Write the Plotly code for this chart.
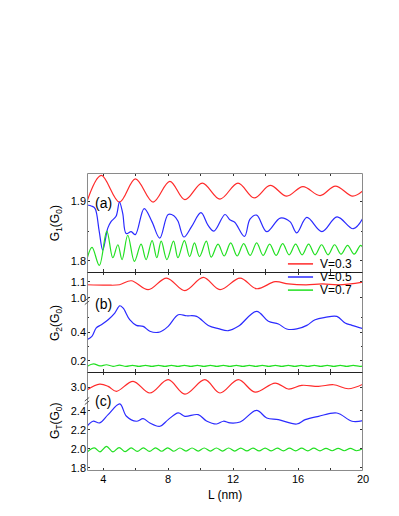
import plotly.graph_objects as go

# ---------------- data ----------------
# Panel (a): G1
La_red = [3.0, 3.88, 5.0, 5.98, 7.07, 8.1, 9.03, 10.1, 11.19, 12.3, 13.3, 14.28, 15.3, 16.3, 17.36, 18.3, 19.36, 20.0]
Ga_red = [1.900, 1.944, 1.899, 1.938, 1.899, 1.934, 1.903, 1.931, 1.904, 1.931, 1.906, 1.927, 1.909, 1.925, 1.910, 1.926, 1.909, 1.918]

La_blue = [3.0, 3.3, 3.5, 3.75, 3.97, 4.28, 4.48, 4.79, 5.0, 5.2, 5.41, 5.72, 5.98, 6.52, 7.0, 7.48, 8.0, 8.35, 8.6, 8.97,
           9.45, 10.02, 10.45, 10.82, 11.5, 11.8, 12.1, 12.7, 13.04, 13.45, 14.07, 14.9, 15.5, 15.92, 16.54, 17.47, 18.4, 19.4, 20.0]
Ga_blue = [1.894, 1.892, 1.888, 1.850, 1.818, 1.855, 1.866, 1.875, 1.899, 1.880, 1.846, 1.849, 1.844, 1.888, 1.866, 1.838, 1.878, 1.876, 1.867, 1.840,
           1.858, 1.881, 1.860, 1.850, 1.878, 1.869, 1.865, 1.841, 1.870, 1.877, 1.849, 1.872, 1.866, 1.847, 1.873, 1.849, 1.874, 1.854, 1.872]

La_green = [3.0, 3.31, 3.76, 4.22, 4.59, 4.9, 5.16, 5.51, 5.92, 6.33, 6.64, 7.01, 7.3, 7.57, 7.92, 8.33, 8.6, 9.0, 9.32, 9.62,
            9.93, 10.35, 10.65, 11.07, 11.45, 11.85, 12.25, 12.65, 13.05, 13.45, 13.85, 14.25, 14.65, 15.05, 15.45, 15.85, 16.25,
            16.65, 17.05, 17.45, 17.85, 18.25, 18.65, 19.05, 19.45, 19.85, 20.0]
Ga_green = [1.803, 1.8225, 1.792, 1.850, 1.805, 1.827, 1.802, 1.843, 1.799, 1.828, 1.802, 1.834, 1.805, 1.833, 1.802, 1.833, 1.805, 1.834, 1.807, 1.830,
            1.807, 1.833, 1.806, 1.828, 1.808, 1.830, 1.808, 1.829, 1.809, 1.830, 1.809, 1.828, 1.809, 1.829, 1.810, 1.828, 1.810,
            1.828, 1.810, 1.827, 1.810, 1.827, 1.811, 1.826, 1.811, 1.826, 1.822]

# Panel (b): G2
Lb_red = [3.0, 4.3, 5.0, 5.73, 6.77, 7.9, 9.03, 10.16, 11.19, 12.43, 13.45, 14.59, 15.4, 16.5, 17.5, 18.5, 20.0]
Gb_red = [1.081, 1.078, 1.081, 1.106, 1.050, 1.123, 1.044, 1.127, 1.050, 1.123, 1.056, 1.100, 1.086, 1.080, 1.086, 1.080, 1.098]

Lb_blue = [3.0, 3.3, 3.57, 3.88, 4.3, 4.71, 5.02, 5.22, 5.63, 6.04, 6.46, 6.87, 7.49, 8.0, 8.62, 9.13, 9.75, 10.47, 11.09, 11.7,
           12.32, 13.45, 14.17, 14.79, 15.3, 15.92, 16.54, 17.05, 17.67, 18.39, 18.9, 19.32, 20.0]
Gb_blue = [0.347, 0.370, 0.428, 0.450, 0.485, 0.531, 0.581, 0.566, 0.485, 0.446, 0.439, 0.405, 0.400, 0.439, 0.519, 0.512, 0.508, 0.445, 0.423, 0.409,
           0.439, 0.543, 0.474, 0.455, 0.421, 0.421, 0.446, 0.485, 0.501, 0.508, 0.462, 0.446, 0.423]

Lb_green = [3.0, 3.4, 3.8, 4.2, 4.6, 5.0, 5.4, 5.8, 6.2, 6.6, 7.0, 7.4, 7.8, 8.2, 8.6, 9.0, 9.4, 9.8, 10.2, 10.6, 11.0, 11.4,
            11.8, 12.2, 12.6, 13.0, 13.4, 13.8, 14.2, 14.6, 15.0, 15.4, 15.8, 16.2, 16.6, 17.0, 17.4, 17.8, 18.2, 18.6, 19.0, 19.4, 19.8, 20.0]
Gb_green = [0.163, 0.180, 0.166, 0.174, 0.163, 0.171, 0.163, 0.170, 0.163, 0.170, 0.163, 0.170, 0.163, 0.170, 0.163, 0.170, 0.163, 0.170,
            0.163, 0.170, 0.163, 0.170, 0.163, 0.170, 0.163, 0.170, 0.163, 0.170, 0.163, 0.170, 0.163, 0.170, 0.163, 0.170, 0.163, 0.170,
            0.163, 0.170, 0.163, 0.170, 0.163, 0.170, 0.163, 0.167]

# Panel (c): GT
Lc_red = [3.0, 3.78, 4.3, 4.81, 5.84, 6.87, 8.0, 9.03, 10.26, 11.19, 12.32, 13.35, 14.59, 15.4, 16.23, 17.26, 18.19, 19.1, 20.0]
Gc_red = [2.970, 3.030, 3.007, 2.955, 3.060, 2.937, 3.077, 2.926, 3.077, 2.937, 3.077, 2.947, 3.042, 2.979, 3.018, 3.007, 3.024, 2.982, 3.030]

Lc_blue = [3.0, 3.37, 3.78, 4.3, 5.02, 5.43, 6.04, 6.46, 6.87, 7.49, 8.0, 8.62, 9.03, 9.85, 10.36, 10.98, 11.4, 11.81, 12.43,
           13.45, 14.07, 14.79, 15.92, 16.44, 17.26, 18.39, 19.32, 20.0]
Gc_blue = [2.239, 2.292, 2.274, 2.361, 2.474, 2.344, 2.292, 2.319, 2.274, 2.239, 2.309, 2.379, 2.344, 2.361, 2.295, 2.263, 2.292, 2.274, 2.284,
           2.407, 2.326, 2.309, 2.263, 2.309, 2.344, 2.379, 2.292, 2.298]

Lc_green = [3.0, 3.45, 3.8, 4.2, 4.6, 4.98, 5.35, 5.72, 6.1, 6.47, 6.85, 7.22, 7.6, 7.97, 8.35, 8.72, 9.1, 9.47, 9.85, 10.22, 10.6,
            10.97, 11.35, 11.72, 12.1, 12.47, 12.85, 13.22, 13.6, 13.97, 14.35, 14.72, 15.1, 15.47, 15.85, 16.22, 16.6, 16.97,
            17.35, 17.72, 18.1, 18.47, 18.85, 19.22, 19.6, 20.0]
Gc_green = [1.966, 2.012, 1.970, 2.028, 1.970, 2.015, 1.972, 2.012, 1.975, 2.012, 1.975, 2.012, 1.976, 2.012, 1.976, 2.010, 1.977, 2.010, 1.977, 2.010, 1.978,
            2.010, 1.978, 2.010, 1.978, 2.009, 1.979, 2.009, 1.979, 2.009, 1.979, 2.008, 1.980, 2.008, 1.980, 2.008, 1.980, 2.008,
            1.980, 2.007, 1.981, 2.007, 1.981, 2.007, 1.981, 2.004]

x_tickvals = [4, 6, 8, 10, 12, 14, 16, 18, 20]
x_ticktext = ["4", "", "8", "", "12", "", "16", "", "20"]
legend_names = ["V=0.3", "V=0.5", "V=0.7"]

RED = "#ff2b2b"
BLUE = "#2b2bff"
GREEN = "#22e022"
FONT = "Liberation Sans, Arial, sans-serif"

fig = go.Figure()


def add(x, y, color, xa, ya):
    fig.add_trace(go.Scatter(x=x, y=y, mode="lines", xaxis=xa, yaxis=ya, showlegend=False,
                             hoverinfo="skip",
                             line=dict(color=color, width=1.2, shape="spline", smoothing=1.0)))


add(La_red, Ga_red, RED, "x3", "y")
add(La_blue, Ga_blue, BLUE, "x3", "y")
add(La_green, Ga_green, GREEN, "x3", "y")
add(Lb_red, Gb_red, RED, "x4", "y2")
add(Lb_blue, Gb_blue, BLUE, "x2", "y3")
add(Lb_green, Gb_green, GREEN, "x2", "y3")
add(Lc_red, Gc_red, RED, "x5", "y4")
add(Lc_blue, Gc_blue, BLUE, "x", "y5")
add(Lc_green, Gc_green, GREEN, "x", "y5")

# domains (paper)
D_a = [0.6678, 1.0]
D_bu = [0.5705, 0.6678]
D_bl = [0.3322, 0.5705]
D_cu = [0.2349, 0.3322]
D_cl = [0.0, 0.2349]

tickfont = dict(family=FONT, size=11, color="black")
xcommon = dict(range=[3, 20], tickvals=x_tickvals, ticktext=x_ticktext, ticks="inside", ticklen=3,
               tickcolor="#333", showgrid=False, zeroline=False, showline=False, domain=[0, 1])
ycommon = dict(ticks="inside", ticklen=3, tickcolor="#333", showgrid=False, zeroline=False, showline=False,
               tickfont=tickfont, tickformat=".1f", mirror="ticks")

fig.update_layout(
    width=399, height=516,
    margin=dict(l=79, r=44, t=165, b=53),
    paper_bgcolor="white", plot_bgcolor="white",
    showlegend=False,
    font=dict(family=FONT, color="black"),
    xaxis=dict(anchor="y5", tickfont=tickfont, **xcommon),
    xaxis2=dict(anchor="y3", matches="x", showticklabels=False, **xcommon),
    xaxis3=dict(anchor="y", matches="x", showticklabels=False, mirror="ticks", **xcommon),
    xaxis4=dict(anchor="y2", side="top", matches="x", showticklabels=False, **xcommon),
    xaxis5=dict(anchor="y4", side="top", matches="x", showticklabels=False, **xcommon),
    yaxis=dict(anchor="x3", domain=D_a, range=[1.781, 1.948], tickvals=[1.8, 1.9],
               minor=dict(tickvals=[1.85], ticks="inside", ticklen=2, tickcolor="#333"), **ycommon),
    yaxis2=dict(anchor="x4", domain=D_bu, range=[0.979, 1.161], tickvals=[1.0, 1.1], **ycommon),
    yaxis3=dict(anchor="x2", domain=D_bl, range=[0.124, 0.614], tickvals=[0.2, 0.4],
                minor=dict(tickvals=[0.3, 0.5], ticks="inside", ticklen=2, tickcolor="#333"), **ycommon),
    yaxis4=dict(anchor="x5", domain=D_cu, range=[2.853, 3.158], tickvals=[3.0], **ycommon),
    yaxis5=dict(anchor="x", domain=D_cl, range=[1.768, 2.505], tickvals=[1.8, 2.0, 2.2, 2.4], **ycommon),
)

shapes = []
# outer frame (half-pixel aligned for crisp 1px lines)
shapes.append(dict(type="rect", xref="paper", yref="paper", x0=0.0018, x1=0.9982, y0=0.0017, y1=0.9983,
                   line=dict(color="#8a8a8a", width=1)))
# panel separators
for yy in [0.6661, 0.3305]:
    shapes.append(dict(type="line", xref="paper", yref="paper", x0=0.0018, x1=0.9982, y0=yy, y1=yy,
                       line=dict(color="#222", width=1)))
# axis-break marks
for yb in [D_bu[0], D_cu[0]]:
    for dy in (-0.006, 0.006):
        shapes.append(dict(type="line", xref="paper", yref="paper", x0=-0.008, x1=0.008,
                           y0=yb + dy - 0.006, y1=yb + dy + 0.006, line=dict(color="#555", width=1)))
# legend lines
leg_colors = [RED, BLUE, GREEN]
leg_y = [0.695, 0.651, 0.607]
for c, yy in zip(leg_colors, leg_y):
    shapes.append(dict(type="line", xref="paper", yref="paper", x0=0.728, x1=0.819, y0=yy, y1=yy,
                       line=dict(color=c, width=1.5)))
fig.update_layout(shapes=shapes)

ann = []
for name, yy in zip(legend_names, leg_y):
    ann.append(dict(text=name, xref="paper", yref="paper", x=0.836, y=yy, xanchor="left", yanchor="middle",
                    showarrow=False, font=dict(family=FONT, size=12, color="black")))
for lab, yy in [("(a)", 0.899), ("(b)", 0.560), ("(c)", 0.235)]:
    ann.append(dict(text=lab, xref="paper", yref="paper", x=0.02, y=yy, xanchor="left", yanchor="middle",
                    showarrow=False, font=dict(family=FONT, size=14, color="black")))
for t, yy in [("G<sub>1</sub>(G<sub>0</sub>)", 0.832), ("G<sub>2</sub>(G<sub>0</sub>)", 0.497),
              ("G<sub>T</sub>(G<sub>0</sub>)", 0.168)]:
    ann.append(dict(text=t, xref="paper", yref="paper", x=-0.112, y=yy, xanchor="center", yanchor="middle",
                    textangle=-90, showarrow=False, font=dict(family=FONT, size=12, color="black")))
ann.append(dict(text="L (nm)", xref="paper", yref="paper", x=0.5, y=-0.08, xanchor="center", yanchor="middle",
                showarrow=False, font=dict(family=FONT, size=12, color="black")))
fig.update_layout(annotations=ann)

fig.write_html("out.html")
